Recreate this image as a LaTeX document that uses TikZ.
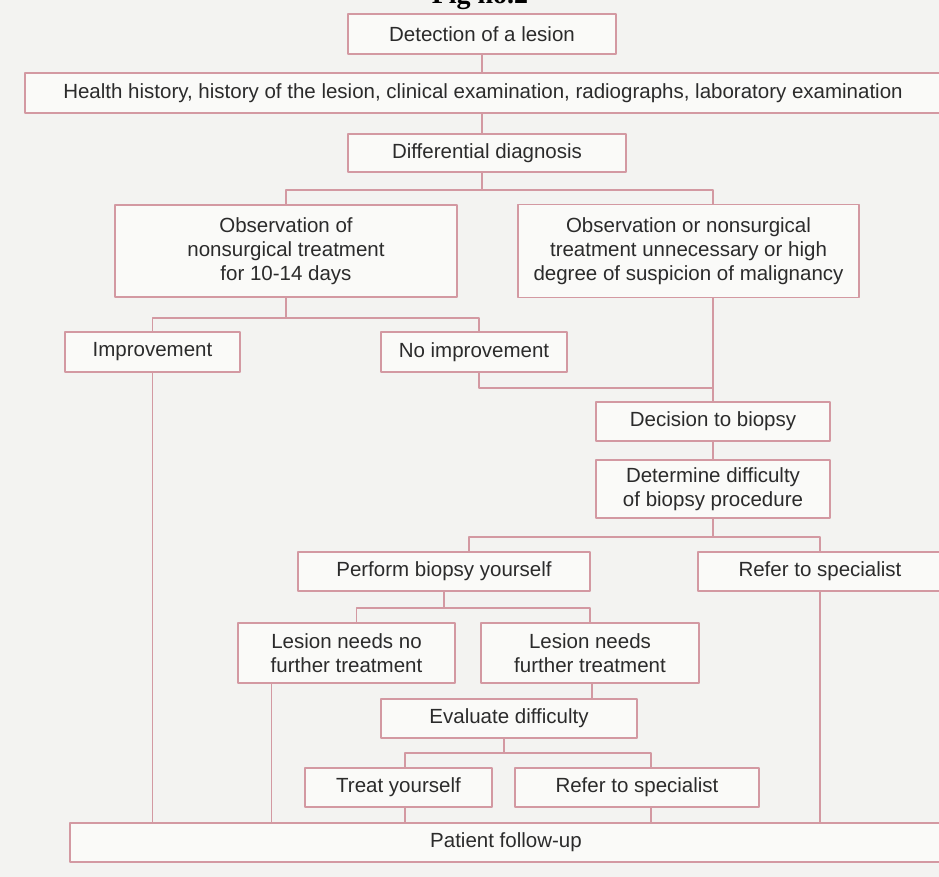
\documentclass[tikz,border=0pt]{standalone}
\usepackage{fontspec}
\setmainfont{Liberation Sans}
\newfontfamily\figfont{Liberation Serif}
\definecolor{paperbg}{HTML}{F3F3F1}
\definecolor{boxfill}{HTML}{FAFAF8}
\definecolor{flowpink}{HTML}{D399A2}
\definecolor{flowtext}{HTML}{2B2B2B}

\begin{document}
\begin{tikzpicture}[
  x=1pt,
  y=-1pt,
  line join=round,
  stepbox/.style={draw=flowpink,fill=boxfill,line width=1.8pt,inner sep=0pt,
    minimum height=40pt,align=center,text=flowtext,
    font=\fontsize{20.5}{24}\selectfont},
  link/.style={draw=flowpink,line width=1.8pt}
]
  % Page frame of the scanned figure.
  \useasboundingbox (0,0) rectangle (939,877);
  \fill[paperbg] (0,0) rectangle (939,877);

  % Caption, cut off by the top edge of the scan.
  \node[anchor=base,font=\figfont\bfseries\fontsize{28}{30}\selectfont,text=black]
    (figcap) at (480,3.5) {Fig no.2};

  % Top of the work-up.
  \node[stepbox,minimum width=268pt] (detect) at (482,34) {Detection of a lesion};
  \node[stepbox,minimum width=916pt] (history) at (483,93)
    {Health history, history of the lesion, clinical examination, radiographs, laboratory examination};
  \node[stepbox,minimum width=278pt,minimum height=38pt] (diff) at (487,153) {Differential diagnosis};

  % Two first branches.
  \node[stepbox,minimum width=342pt,minimum height=92pt] (obsl) at (286,251)
    {Observation of\\nonsurgical treatment\\for 10-14 days};
  \node[stepbox,minimum width=341pt,minimum height=93pt] (obsr) at (688.5,251)
    {Observation or nonsurgical\\treatment unnecessary or high\\degree of suspicion of malignancy};
  \node[stepbox,minimum width=175pt] (improve) at (152.5,352) {Improvement};
  \node[stepbox,minimum width=186pt] (noimp) at (474,352) {No improvement};

  % Biopsy path.
  \node[stepbox,minimum width=234pt,minimum height=39pt] (decide) at (713,421.5) {Decision to biopsy};
  \node[stepbox,minimum width=234pt,minimum height=58pt] (determine) at (713,489)
    {Determine difficulty\\of biopsy procedure};
  \node[stepbox,minimum width=292pt,minimum height=39pt] (perform) at (444,571.5) {Perform biopsy yourself};
  \node[stepbox,minimum width=244pt,minimum height=39pt] (referA) at (820,571.5) {Refer to specialist};
  \node[stepbox,minimum width=217pt,minimum height=60pt] (lesno) at (346.5,653)
    {Lesion needs no\\further treatment};
  \node[stepbox,minimum width=218pt,minimum height=60pt] (lesyes) at (590,653)
    {Lesion needs\\further treatment};
  \node[stepbox,minimum width=256pt,minimum height=39pt] (evaluate) at (509,718.5) {Evaluate difficulty};
  \node[stepbox,minimum width=187pt,minimum height=39pt] (treat) at (398.5,787.5) {Treat yourself};
  \node[stepbox,minimum width=244pt,minimum height=39pt] (referB) at (637,787.5) {Refer to specialist};
  \node[stepbox,minimum width=872pt,minimum height=39pt] (patient) at (506,842.5) {Patient follow-up};

  % Junctions of the branching lines.
  \coordinate (diagJoin) at (482,190);
  \coordinate (rightDrop) at (713,190);
  \coordinate (obsJoin) at (286,318);
  \coordinate (noimpJoin) at (713,388);
  \coordinate (bioJoin) at (713,537);
  \coordinate (perfJoin) at (444,608);
  \coordinate (evalJoin) at (504,753);

  % Connectors.
  \draw[link] (detect.south) -- (detect.south |- history.north);
  \draw[link] (detect.south |- history.south) -- (detect.south |- diff.north);
  \draw[link] (detect.south |- diff.south) -- (diagJoin);
  \draw[link] (obsl.north) |- (rightDrop) -- (rightDrop |- obsr.north);
  \draw[link] (obsl.south) -- (obsJoin);
  \draw[link] (improve.north) |- (obsJoin) -| ([xshift=5pt]noimp.north);
  \draw[link] ([xshift=5pt]noimp.south) |- (noimpJoin);
  \draw[link] (decide.north |- obsr.south) -- (decide.north);
  \draw[link] (decide.south) -- (determine.north);
  \draw[link] (determine.south) -- (bioJoin);
  \draw[link] ([xshift=25pt]perform.north) |- (bioJoin) -| (referA.north);
  \draw[link] (perform.south) -- (perfJoin);
  \draw[link] ([xshift=10pt]lesno.north) |- (perfJoin) -| (lesyes.north);
  \draw[link] ([xshift=2pt]lesyes.south) -- ([xshift=2pt]lesyes.south |- evaluate.north);
  \draw[link] ([xshift=-5pt]evaluate.south) -- (evalJoin);
  \draw[link] ([xshift=6.5pt]treat.north) |- (evalJoin) -| ([xshift=14pt]referB.north);

  % Lines that end at the follow-up.
  \draw[link] (improve.south) -- (improve.south |- patient.north);
  \draw[link] ([xshift=-75pt]lesno.south) -- ([xshift=-75pt]lesno.south |- patient.north);
  \draw[link] ([xshift=6.5pt]treat.south) -- ([xshift=6.5pt]treat.south |- patient.north);
  \draw[link] ([xshift=14pt]referB.south) -- ([xshift=14pt]referB.south |- patient.north);
  \draw[link] (referA.south) -- (referA.south |- patient.north);
\end{tikzpicture}
\end{document}
